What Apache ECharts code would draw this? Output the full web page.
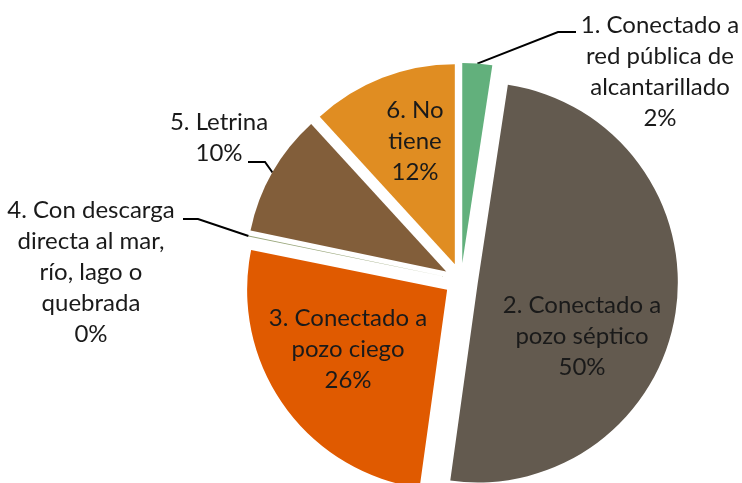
<!DOCTYPE html>
<html>
<head>
<meta charset="utf-8">
<script src="https://cdn.jsdelivr.net/npm/echarts@6/dist/echarts.min.js"></script>
<style>
  html, body { margin: 0; padding: 0; background: #ffffff; }
  #chart { width: 742px; height: 483px; }
</style>
</head>
<body>
<div id="chart"></div>
<script>
// Tipo de servicio higiénico: shares of households (%)
const categories = [
  '1. Conectado a\nred pública de\nalcantarillado',
  '2. Conectado a\npozo séptico',
  '3. Conectado a\npozo ciego',
  '4. Con descarga\ndirecta al mar,\nrío, lago o\nquebrada',
  '5. Letrina',
  '6. No\ntiene'
];
const shares = [2.4, 49.8, 26.0, 0.1, 9.9, 11.8];

// Styling, kept apart from the values
const sliceColors = ['#62b07c', '#635a4f', '#e05a00', '#9aa77c', '#825e3a', '#e08d22'];
const labelInside = [false, true, true, false, false, true];
// Centre of each text block, plus the elbow and end of the leader lines
const labelSpots = [
  { x: 660, y: 72, line: [[558, 32], [576, 32]] },
  { x: 582, y: 336 },
  { x: 348, y: 349 },
  { x: 91, y: 272, line: [[198, 219], [183, 219]] },
  { x: 219, y: 138, line: [[265, 162], [248, 162]] },
  { x: 415, y: 141 }
];

const pieCenter = [461, 280];
const pieRadius = 200;
const explode = 17;

const chart = echarts.init(document.getElementById('chart'), null, { renderer: 'canvas' });

// Exploded wedges
const wedgeData = categories.map((name, i) => ({
  name: name,
  value: shares[i],
  selected: true,
  itemStyle: { color: sliceColors[i] }
}));

// Label carrier: same angles, radius reaching the outer edge of the exploded
// wedges, so leader lines start right on each wedge's arc.
const labelData = categories.map((name, i) => ({
  name: name,
  value: shares[i],
  label: { position: labelInside[i] ? 'inside' : 'outside' },
  labelLine: { show: !labelInside[i] }
}));

const textStyle = {
  fontFamily: 'Lato',
  fontSize: 24,
  lineHeight: 31,
  color: '#1a1a1a',
  align: 'center'
};

chart.setOption({
  animation: false,
  series: [
    {
      type: 'pie',
      center: pieCenter,
      radius: [0, pieRadius],
      startAngle: 90,
      clockwise: true,
      selectedMode: 'multiple',
      selectedOffset: explode,
      emphasis: { disabled: true },
      silent: true,
      itemStyle: { borderWidth: 0 },
      label: { show: false },
      labelLine: { show: false },
      data: wedgeData
    },
    {
      type: 'pie',
      center: pieCenter,
      radius: [0, pieRadius + explode],
      startAngle: 90,
      clockwise: true,
      selectedMode: false,
      percentPrecision: 0,
      avoidLabelOverlap: false,
      emphasis: { disabled: true },
      silent: true,
      itemStyle: { color: 'rgba(0,0,0,0)', borderWidth: 0 },
      label: Object.assign({ formatter: '{b}\n{d}%' }, textStyle),
      labelLine: { lineStyle: { color: '#000000', width: 2 } },
      labelLayout: function (p) {
        const spot = labelSpots[p.dataIndex];
        const out = { x: spot.x, y: spot.y, align: 'center', verticalAlign: 'middle' };
        if (spot.line && p.labelLinePoints) {
          out.labelLinePoints = [p.labelLinePoints[0], spot.line[0], spot.line[1]];
        }
        return out;
      },
      data: labelData
    }
  ]
});
</script>
</body>
</html>
